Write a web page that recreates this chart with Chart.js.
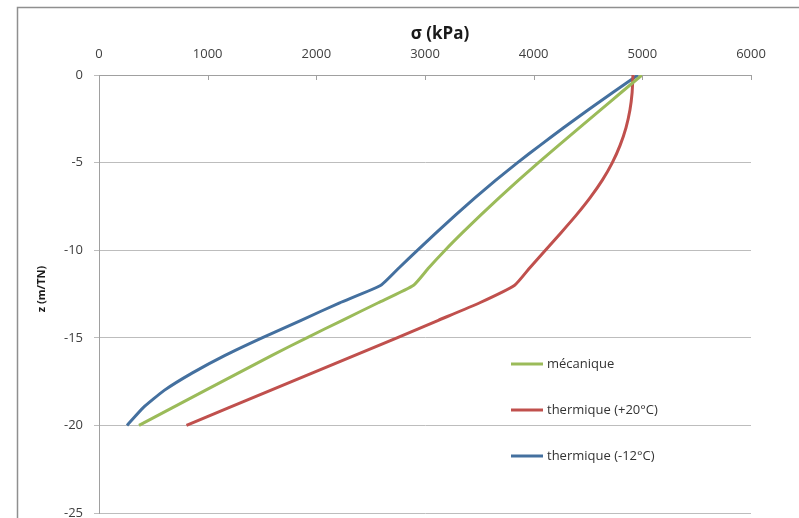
<!DOCTYPE html>
<html>
<head>
<meta charset="utf-8">
<script src="https://cdn.jsdelivr.net/npm/chart.js@4.4.1/dist/chart.umd.min.js"></script>
<style>
  html, body { margin: 0; padding: 0; background: #fff; }
  #wrap { width: 799px; height: 518px; position: relative; }
</style>
</head>
<body>
<div id="wrap"><canvas id="myChart" width="799" height="518"></canvas></div>
<script>
// depth z (m/TN), shared by all three curves
const depths = [0, -1, -2, -3, -4, -5, -6, -7, -8, -9, -10, -11, -12, -13, -14, -15, -16, -17, -18, -19, -20];

// sigma (kPa)
const mecanique = [4997, 4805, 4613, 4422, 4232, 4044, 3861, 3684, 3512, 3345, 3185, 3035, 2895, 2570, 2240, 1912, 1592, 1285, 978, 673, 368];
const thermPlus20 = [4914, 4906, 4886, 4850, 4796, 4724, 4632, 4520, 4392, 4252, 4108, 3965, 3825, 3504, 3123, 2742, 2354, 1966, 1578, 1190, 805];
const thermMinus12 = [4960, 4728, 4500, 4278, 4062, 3852, 3652, 3462, 3280, 3104, 2932, 2762, 2594, 2215, 1860, 1500, 1160, 860, 600, 405, 258];

const seriesNames = ["mécanique", "thermique (+20°C)", "thermique (-12°C)"];
const seriesColors = ["#9bbb59", "#c0504d", "#44709f"];

const xTicks = [0, 1000, 2000, 3000, 4000, 5000, 6000];
const yTicks = [0, -5, -10, -15, -20, -25];

const FONT = "'Open Sans', 'DejaVu Sans', sans-serif";

const toPoints = (vals) => vals.map((v, i) => ({ x: v, y: depths[i] }));

// frame, titles, inside ticks of the top axis and the legend
const decorations = {
  id: "decorations",
  afterDraw(chart) {
    const { ctx, chartArea, scales } = chart;
    ctx.save();

    // outer frame
    ctx.strokeStyle = "#8f8f8f";
    ctx.lineWidth = 1.5;
    ctx.beginPath();
    ctx.moveTo(17.5, 518);
    ctx.lineTo(17.5, 7.5);
    ctx.lineTo(799, 7.5);
    ctx.stroke();

    // small ticks pointing down from the top axis
    ctx.strokeStyle = "#a0a0a0";
    ctx.lineWidth = 1;
    xTicks.forEach((t) => {
      const px = Math.round(scales.x.getPixelForValue(t)) + 0.5;
      ctx.beginPath();
      ctx.moveTo(px, chartArea.top);
      ctx.lineTo(px, chartArea.top + 5);
      ctx.stroke();
    });

    // axis titles
    ctx.fillStyle = "#1a1a1a";
    ctx.textAlign = "center";
    ctx.textBaseline = "middle";
    ctx.font = "bold 17px " + FONT;
    ctx.fillText("σ (kPa)", 440, 34);

    ctx.translate(42, 289);
    ctx.rotate(-Math.PI / 2);
    ctx.font = "bold 11px " + FONT;
    ctx.fillText("z (m/TN)", 0, 0);
    ctx.setTransform(1, 0, 0, 1, 0, 0);

    // legend inside the plot
    const rows = [364, 410, 456];
    ctx.textAlign = "left";
    ctx.font = "13px " + FONT;
    seriesNames.forEach((name, i) => {
      ctx.strokeStyle = seriesColors[i];
      ctx.lineWidth = 3;
      ctx.beginPath();
      ctx.moveTo(511, rows[i]);
      ctx.lineTo(543, rows[i]);
      ctx.stroke();
      ctx.fillStyle = "#333333";
      ctx.fillText(name, 547, rows[i]);
    });
    ctx.restore();
  },
};

const datasets = [mecanique, thermPlus20, thermMinus12].map((vals, i) => ({
  label: seriesNames[i],
  data: toPoints(vals),
  borderColor: seriesColors[i],
  backgroundColor: seriesColors[i],
  borderWidth: 3,
  pointRadius: 0,
  showLine: true,
  tension: 0.15,
}));

new Chart(document.getElementById("myChart"), {
  type: "scatter",
  data: { datasets },
  plugins: [decorations],
  options: {
    responsive: false,
    animation: false,
    layout: { padding: { left: 0, top: 0, right: 48, bottom: 5 } },
    plugins: {
      legend: { display: false },
      tooltip: { enabled: false },
    },
    scales: {
      x: {
        type: "linear",
        position: "top",
        min: 0,
        max: 6000,
        afterFit: (scale) => {
          scale.height = 75;
          scale.paddingLeft = 0;
          scale.paddingRight = 0;
        },
        afterBuildTicks: (scale) => { scale.ticks = xTicks.map((v) => ({ value: v })); },
        ticks: {
          padding: 13,
          color: "#404040",
          font: { family: FONT, size: 13 },
          callback: (v) => String(v),
        },
        grid: { display: true, drawOnChartArea: false, drawTicks: false },
        border: { display: true, color: "#a0a0a0", width: 1 },
      },
      y: {
        type: "linear",
        min: -25,
        max: 0,
        afterFit: (scale) => {
          scale.width = 99;
          scale.paddingTop = 0;
          scale.paddingBottom = 0;
        },
        afterBuildTicks: (scale) => { scale.ticks = yTicks.map((v) => ({ value: v })); },
        ticks: {
          padding: 11,
          color: "#404040",
          font: { family: FONT, size: 13 },
          callback: (v) => String(v),
        },
        grid: { color: "#bdbdbd", tickLength: 5, lineWidth: 1 },
        border: { display: true, color: "#a0a0a0", width: 1 },
      },
    },
  },
});
</script>
</body>
</html>
